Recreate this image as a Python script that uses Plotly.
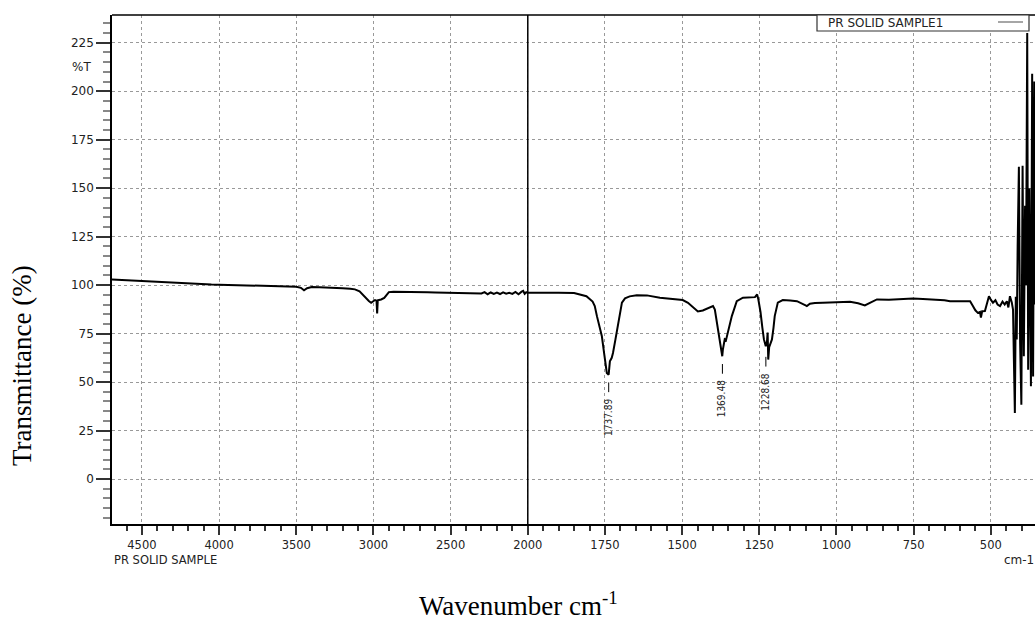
import plotly.graph_objects as go

# FTIR spectrum of the solid PR sample: wavenumber (cm-1) vs transmittance (%T)
wavenumber = [
    4694, 4650, 4600, 4550, 4500, 4450, 4400, 4350, 4300, 4250, 4200, 4150, 4100,
    4050, 4000, 3950, 3900, 3850, 3800, 3750, 3700, 3650, 3600, 3550, 3500, 3470,
    3450, 3430, 3400, 3350, 3300, 3250, 3200, 3150, 3120, 3090, 3070, 3050, 3030,
    3015, 3000, 2990, 2980, 2976, 2972, 2950, 2930, 2915, 2900, 2870, 2850, 2800,
    2750, 2700, 2650, 2600, 2550, 2500, 2450, 2400, 2350, 2300, 2280, 2260, 2240,
    2220, 2200, 2180, 2160, 2140, 2120, 2100, 2080, 2060, 2040, 2030, 2020, 2010,
    2000, 1950, 1900, 1850, 1810, 1790, 1783, 1776, 1768, 1760, 1752, 1744, 1738,
    1734, 1728, 1724, 1716, 1708, 1700, 1695, 1685, 1670, 1647, 1614, 1572, 1530,
    1498, 1481, 1465, 1449, 1433, 1420, 1410, 1400, 1394, 1384, 1378, 1373, 1370,
    1368, 1362, 1358, 1355, 1349, 1339, 1323, 1303, 1264, 1257, 1253, 1246, 1240,
    1235, 1229, 1225, 1223, 1221, 1218, 1214, 1209, 1204, 1200, 1190, 1174, 1150,
    1128, 1100, 1096, 1086, 1070, 1044, 1000, 956, 930, 908, 890, 869, 830, 794,
    752, 720, 687, 650, 632, 600, 567, 558, 550, 542, 535, 532, 528, 519, 512, 506,
    500, 493, 485, 478, 470, 462, 455, 448, 443, 438, 432, 428, 425, 422, 419, 416,
    413, 409, 405, 401, 397, 393, 389, 386, 382, 379, 375, 370, 366, 363, 359, 356,
]
transmittance = [
    102.9, 102.7, 102.6, 102.4, 102.3, 102.1, 101.8, 101.5, 101.2, 101.0, 100.8,
    100.6, 100.4, 100.3, 100.2, 100.1, 100.0, 99.9, 100.0, 99.8, 99.6, 99.5, 99.4,
    99.3, 99.2, 98.6, 97.3, 98.4, 99.0, 98.9, 98.8, 98.6, 98.4, 98.1, 97.8, 96.8,
    95.0, 93.5, 91.8, 90.9, 91.8, 92.3, 92.0, 85.4, 92.2, 92.6, 93.4, 95.2, 96.4,
    96.6, 96.6, 96.5, 96.4, 96.4, 96.3, 96.2, 96.1, 96.1, 96.0, 95.9, 95.9, 95.7,
    96.4, 95.3, 96.2, 95.5, 96.1, 95.4, 96.3, 95.6, 96.0, 95.5, 96.5, 95.3, 96.6,
    97.0, 95.5, 96.3, 96.0, 96.1, 96.0, 95.9, 94.3, 91.5, 89.2, 84.0, 79.0, 73.6,
    64.0, 54.7, 53.8, 60.7, 62.5, 65.0, 72.0, 78.8, 86.5, 91.0, 93.2, 94.2, 94.8,
    94.7, 93.5, 92.8, 92.3, 90.9, 88.5, 86.4, 86.9, 87.8, 88.8, 89.2, 87.4, 77.1,
    71.9, 67.5, 63.3, 66.7, 72.0, 71.5, 73.5, 77.0, 84.0, 91.7, 93.5, 93.8, 95.2,
    92.6, 86.0, 78.0, 72.0, 68.5, 71.0, 75.5, 61.6, 68.0, 70.3, 72.0, 78.0, 84.0,
    91.0, 92.3, 92.0, 91.7, 89.5, 89.2, 90.4, 90.8, 90.9, 91.2, 91.4, 90.6, 89.5,
    91.0, 92.6, 92.4, 92.6, 93.1, 92.8, 92.6, 92.2, 91.7, 91.8, 91.7, 89.2, 87.0,
    85.7, 86.2, 83.3, 86.5, 86.6, 91.0, 94.3, 92.5, 90.9, 92.2, 90.0, 89.2, 91.5,
    90.0, 91.7, 88.5, 94.3, 91.0, 87.4, 60.0, 34.0, 94.0, 71.9, 120.0, 161.0, 70.3,
    38.3, 161.6, 63.3, 140.9, 100.0, 230.0, 56.4, 150.0, 47.8, 209.0, 52.9, 205.0,
    90.0,
]

# labelled band positions and the transmittance at each label
peak_wn = [1737.89, 1369.48, 1228.68]
peak_T = [53.8, 63.3, 67.0]

x_tick_values = [4500, 4000, 3500, 3000, 2500, 2000, 1750, 1500, 1250, 1000, 750, 500]
y_tick_values = [0, 25, 50, 75, 100, 125, 150, 175, 200, 225]

X_MAX, X_MIN = 4694, 356.8
Y_MIN, Y_MAX = -23.2, 239.3
BREAK = 2000  # above this wavenumber the axis is compressed by a factor of 2


def to_axis(w):
    return w if w <= BREAK else BREAK + (w - BREAK) / 2.0


# plot-area geometry in pixels, used to place paper-referenced decorations
L, R, T, B = 112, 1035, 15, 524


def px(xp):
    return (xp - L) / (R - L)


def py(yp):
    return (B - yp) / (B - T)


SANS = "DejaVu Sans"
SERIF = "Liberation Serif, Times New Roman, serif"

fig = go.Figure()

fig.add_trace(go.Scatter(
    x=[to_axis(w) for w in wavenumber],
    y=transmittance,
    mode="lines",
    line=dict(color="black", width=2),
    name="PR SOLID SAMPLE1",
    hoverinfo="skip",
))

# small marker dashes under each labelled band
dash_x, dash_y = [], []
for w, t in zip(peak_wn, peak_T):
    dash_x += [to_axis(w), to_axis(w), None]
    dash_y += [t - 4, t - 9, None]
fig.add_trace(go.Scatter(x=dash_x, y=dash_y, mode="lines",
                         line=dict(color="black", width=1), hoverinfo="skip"))

annotations = []
for w, t in zip(peak_wn, peak_T):
    annotations.append(dict(
        x=to_axis(w), y=t - 22, xref="x", yref="y", text=f"{w:.2f}",
        textangle=-90, showarrow=False, xanchor="center", yanchor="middle",
        font=dict(family="Liberation Sans Narrow, DejaVu Sans Condensed, sans-serif",
                  size=10, color="#222"),
    ))

annotations += [
    dict(x=px(93), y=212.5, xref="paper", yref="y", text="%T", showarrow=False,
         xanchor="right", yanchor="middle",
         font=dict(family=SANS, size=12, color="#222")),
    dict(x=0, y=py(560), xref="paper", yref="paper", text="PR SOLID SAMPLE",
         showarrow=False, xanchor="left", yanchor="middle",
         font=dict(family=SANS, size=11.5, color="#222")),
    dict(x=px(1002), y=py(560), xref="paper", yref="paper", text="cm-1",
         showarrow=False, xanchor="left", yanchor="middle",
         font=dict(family=SANS, size=12, color="#222")),
    dict(x=px(826), y=py(23), xref="paper", yref="paper", text="PR SOLID SAMPLE1",
         showarrow=False, xanchor="left", yanchor="middle",
         font=dict(family=SANS, size=12, color="#222")),
    dict(x=px(518), y=py(623), xref="paper", yref="paper",
         text="Wavenumber cm<sup>-1</sup>", showarrow=False,
         xanchor="center", yanchor="bottom",
         font=dict(family=SERIF, size=27, color="black")),
    dict(x=px(22), y=py(366), xref="paper", yref="paper",
         text="Transmittance (%)", showarrow=False, textangle=-90,
         xanchor="center", yanchor="middle",
         font=dict(family=SERIF, size=27, color="black")),
]

shapes = [
    # frame top edge
    dict(type="line", xref="paper", yref="paper", x0=0, x1=1, y0=1, y1=1,
         line=dict(color="black", width=1.5)),
    # scale change marker at 2000 cm-1
    dict(type="line", xref="x", yref="paper", x0=BREAK, x1=BREAK, y0=0, y1=1,
         line=dict(color="black", width=1.5)),
    # legend box
    dict(type="rect", xref="paper", yref="paper", x0=px(817), x1=px(1029),
         y0=py(31), y1=1, fillcolor="white", line=dict(color="#333", width=1.2)),
    dict(type="line", xref="paper", yref="paper", x0=px(998), x1=px(1023),
         y0=py(22), y1=py(22), line=dict(color="#888", width=1.5)),
]

fig.update_layout(
    width=1035, height=623,
    margin=dict(l=L, r=1035 - R, t=T, b=623 - B),
    plot_bgcolor="white", paper_bgcolor="white",
    showlegend=False,
    font=dict(family=SANS, size=12, color="#222"),
    annotations=annotations,
    shapes=shapes,
)

fig.update_xaxes(
    range=[to_axis(X_MAX), X_MIN],
    tickmode="array",
    tickvals=[to_axis(w) for w in x_tick_values],
    ticktext=[str(w) for w in x_tick_values],
    ticks="outside", ticklen=9, tickwidth=2, tickcolor="#333",
    showline=True, linecolor="black", linewidth=1.5,
    showgrid=True, gridcolor="#999", griddash="dot", gridwidth=1,
    zeroline=False,
    minor=dict(tickmode="linear", tick0=0, dtick=50, ticks="outside",
               ticklen=5, tickwidth=1.5, tickcolor="#333", showgrid=False),
    tickfont=dict(family=SANS, size=11.5, color="#222"),
)

fig.update_yaxes(
    range=[Y_MIN, Y_MAX],
    tickmode="array",
    tickvals=y_tick_values,
    ticktext=[str(v) for v in y_tick_values],
    ticks="outside", ticklen=14, tickwidth=2, tickcolor="#333",
    showline=True, linecolor="black", linewidth=1.5,
    showgrid=True, gridcolor="#999", griddash="dot", gridwidth=1,
    zeroline=False,
    minor=dict(tickmode="linear", tick0=0, dtick=5, ticks="outside",
               ticklen=7, tickwidth=1.5, tickcolor="#888", showgrid=False),
    tickfont=dict(family=SANS, size=12, color="#222"),
)

fig.write_html("out.html")
